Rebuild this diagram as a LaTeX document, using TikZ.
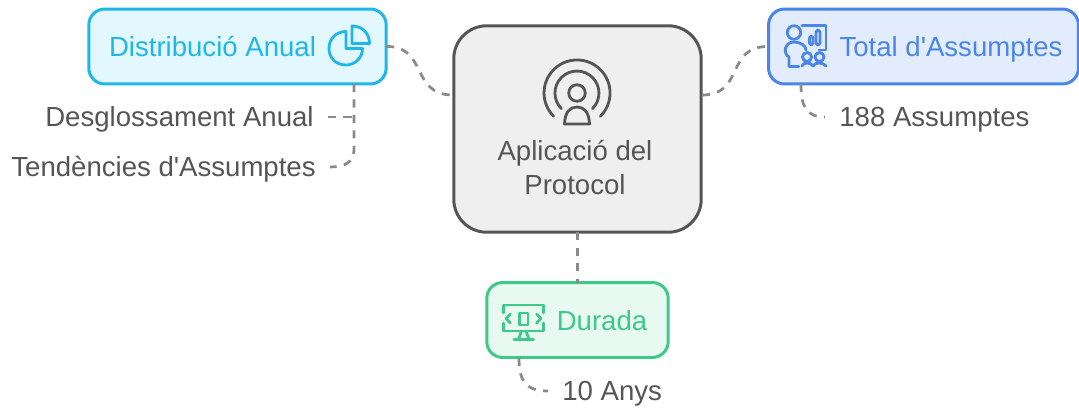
\documentclass[tikz,border=0pt]{standalone}
\usepackage{fontspec}
\setmainfont{Liberation Sans}
\definecolor{cyanline}{HTML}{1FB6E9}
\definecolor{cyanfill}{HTML}{E3F7FF}
\definecolor{blueline}{HTML}{4A86E8}
\definecolor{bluefill}{HTML}{E2ECFD}
\definecolor{greenline}{HTML}{3CC98A}
\definecolor{greenfill}{HTML}{E8F9F1}
\definecolor{greyline}{HTML}{555555}
\definecolor{greyfill}{HTML}{EFEFEF}
\definecolor{dashline}{HTML}{8A8A8A}
\begin{document}
\begin{tikzpicture}[x=0.02cm, y=-0.02cm]
    \tikzstyle{topic}=[draw, line width=1.7pt, rounded corners=0.32cm, outer sep=0pt, minimum height=1.5cm];
    \tikzstyle{label}=[font=\fontsize{15.7}{19}\selectfont, inner sep=0pt, text height=12.5pt, text depth=1.4pt];
    \tikzstyle{leaf}=[font=\fontsize{15.7}{19}\selectfont, text=greyline, inner xsep=0.28cm, inner ysep=0pt, text height=12.5pt, text depth=1.4pt];
    \tikzstyle{link}=[dashline, line width=1.55pt, dash pattern=on 4.6pt off 4.2pt];
    \tikzstyle{icon}=[line width=1.6pt, line cap=round, line join=round];

    \useasboundingbox (0, 0) rectangle (1079, 409);

    % boxes
    \node (appl) at (577.5, 129) [topic, draw=greyline, fill=greyfill, rounded corners=0.66cm, minimum width=4.95cm, minimum height=4.13cm] {};
    \node (dist) at (237.5, 46.5) [topic, draw=cyanline, fill=cyanfill, minimum width=5.95cm] {};
    \node (total) at (923.5, 46.5) [topic, draw=blueline, fill=bluefill, minimum width=6.2cm] {};
    \node (durada) at (577.5, 320) [topic, draw=greenline, fill=greenfill, minimum width=3.63cm] {};

    % texts of the boxes
    \node (distlabel) at (212.5, 47) [label, text=cyanline] {Distribució Anual};
    \node (totallabel) at (951, 47) [label, text=blueline] {Total d\textquotesingle Assumptes};
    \node (duradalabel) at (602, 321) [label, text=greenline] {Durada};
    \node (appllabel) at (575, 167.5) [label, text=greyline, align=center, text height=, text depth=] {Aplicació del\\Protocol};

    % leaves
    \node (desg) [leaf, anchor=east] at (328, 117) {Desglossament Anual};
    \node (tend) [leaf, anchor=east] at (330, 167) {Tendències d\textquotesingle Assumptes};
    \node (assum) [leaf, anchor=west] at (825, 117) {188 Assumptes};
    \node (anys) [leaf, anchor=west] at (548, 391) {10 Anys};

    % where the links leave the boxes
    \coordinate (applL) at (453, 95);
    \coordinate (applR) at (702, 95);
    \coordinate (distB) at (354, 84);
    \coordinate (totalB) at (801, 84);
    \coordinate (duradaB) at (519, 358);

    \draw[link] (dist.east) .. controls (428, 46) and (410, 95) .. (applL);
    \draw[link] (applR) .. controls (745, 95) and (725, 46) .. (total.west);
    \draw[link] (appl.south) -- (durada.north);
    \draw[link] (distB) -- (354, 150) .. controls (354, 162) and (345, 167) .. (tend.east);
    \draw[link] (desg.east) -- (354, 117);
    \draw[link] (totalB) .. controls (801, 105) and (805, 117) .. (assum.west);
    \draw[link] (duradaB) .. controls (519, 380) and (525, 391) .. (anys.west);

    % icon of the central box
    \begin{scope}[icon, draw=greyline]
        \node (applhead) at (577, 93) [circle, draw=greyline, line width=1.6pt, minimum size=0.33cm, inner sep=0pt] {};
        \draw (564.5, 124) .. controls (565, 112) and (570, 107) .. (577, 107) .. controls (584, 107) and (589, 112) .. (589.5, 124) -- cycle;
        \draw (561.4, 108.6) arc[start angle=135, end angle=405, radius=22];
        \draw (553.7, 116.3) arc[start angle=135, end angle=405, radius=33];
    \end{scope}

    % icon of the pie chart
    \begin{scope}[icon, draw=cyanline]
        \draw (346, 31.5) .. controls (336, 31.5) and (329, 39) .. (329, 48.5) .. controls (329, 58) and (336, 65) .. (346, 65) .. controls (355, 65) and (362.5, 58) .. (362.5, 48.5) -- (346, 48.5) -- cycle;
        \draw (352, 26) .. controls (362, 26) and (369.5, 33) .. (369.5, 43.5) -- (352, 43.5) -- cycle;
    \end{scope}

    % icon of the presenter
    \begin{scope}[icon, draw=blueline]
        \node (totalhead) at (794, 32.5) [circle, draw=blueline, line width=1.6pt, minimum size=0.27cm, inner sep=0pt] {};
        \draw (802, 25.7) -- (826, 25.7) -- (826, 50) -- (819, 50);
        \draw[rounded corners=1pt] (809.5, 36) rectangle (813, 45);
        \draw[rounded corners=1pt] (816, 30) rectangle (820, 45);
        \draw (799, 66.5) -- (789, 66.5) -- (789, 57) .. controls (783, 54) and (784, 42) .. (794, 42) .. controls (801, 42) and (806, 46) .. (806, 50);
        \node (totalkid) at (807, 57) [circle, draw=blueline, line width=1.6pt, minimum size=0.18cm, inner sep=0pt] {};
        \node (totalkidb) at (819.5, 57) [circle, draw=blueline, line width=1.6pt, minimum size=0.18cm, inner sep=0pt] {};
        \draw (802, 66) .. controls (803, 62) and (811, 62) .. (813, 66) .. controls (815, 62) and (823, 62) .. (826, 66);
    \end{scope}

    % icon of the screen
    \begin{scope}[icon, draw=greenline]
        \draw (503.5, 313) -- (503.5, 305) -- (543.5, 305) -- (543.5, 313);
        \draw (503.5, 323) -- (503.5, 331) -- (543.5, 331) -- (543.5, 323);
        \draw (510.5, 314) -- (506, 318.5) -- (510.5, 323);
        \draw (536.5, 314) -- (541, 318.5) -- (536.5, 323);
        \draw (519.5, 313) rectangle (528, 325);
        \draw (521.5, 331) -- (518.5, 339.5);
        \draw (526, 331) -- (529, 339.5);
        \draw (514, 339.5) -- (533.5, 339.5);
    \end{scope}
\end{tikzpicture}
\end{document}
